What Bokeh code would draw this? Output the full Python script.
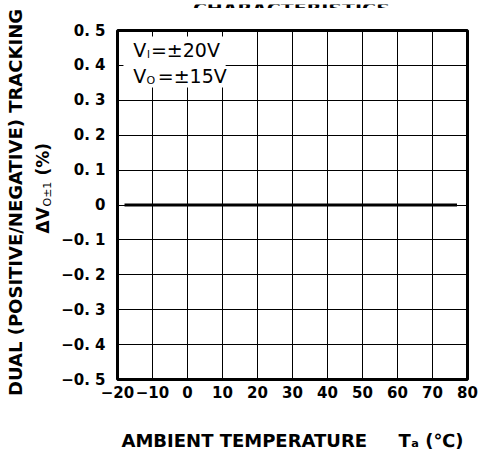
import math
from bokeh.plotting import figure
from bokeh.layouts import column, row
from bokeh.models import Label, FixedTicker
from bokeh.embed import file_html
from bokeh.resources import INLINE

# ---- data ----
temperature = [-18, -10, 0, 10, 20, 30, 40, 50, 60, 70, 77]
tracking = [0.0, 0.0, 0.0, 0.0, 0.0, 0.0, 0.0, 0.0, 0.0, 0.0, 0.0]

x_ticks = [-20, -10, 0, 10, 20, 30, 40, 50, 60, 70, 80]
x_tick_labels = ["−20", "−10", "0", "10", "20", "30", "40", "50", "60", "70", "80"]
y_ticks = [-0.5, -0.4, -0.3, -0.2, -0.1, 0.0, 0.1, 0.2, 0.3, 0.4, 0.5]
y_tick_labels = ["−0. 5", "−0. 4", "−0. 3", "−0. 2", "−0. 1", "0",
                 "0. 1", "0. 2", "0. 3", "0. 4", "0. 5"]

FONT = "DejaVu Sans"


def bare_figure(w, h):
    f = figure(width=w, height=h, x_range=(0, 1), y_range=(0, 1),
               output_backend="svg", toolbar_location=None,
               min_border_left=0, min_border_right=0, min_border_top=0, min_border_bottom=0)
    f.axis.visible = False
    f.grid.visible = False
    f.outline_line_color = None
    f.background_fill_color = "white"
    f.border_fill_color = "white"
    f.frame_align = False
    return f


def add_label(f, x, y, text, size, align="left", baseline="middle", angle=0.0,
              style="bold", units="data"):
    f.add_layout(Label(x=x, y=y, text=text, text_font=FONT, text_font_style=style,
                       text_font_size=size, text_align=align, text_baseline=baseline,
                       angle=angle, text_color="black", x_units=units, y_units=units))


# ---- title strip (cut off at the top as in the original) ----
tfig = bare_figure(479, 8)
add_label(tfig, 291, 4, "CHARACTERISTICS", "19px", align="center", baseline="alphabetic",
          units="screen")

# ---- left strip with the vertical axis titles ----
LW, H = 58, 453
lfig = bare_figure(LW, H)
add_label(lfig, 15, 259, "DUAL (POSITIVE/NEGATIVE) TRACKING", "18px", align="center",
          angle=math.pi / 2, units="screen")
add_label(lfig, 42, 228, "ΔV", "17px", angle=math.pi / 2, units="screen")
add_label(lfig, 47, 255, "O±1", "11px", angle=math.pi / 2, units="screen", style="normal")
add_label(lfig, 42, 286, "(%)", "17px", angle=math.pi / 2, units="screen")

# ---- main chart ----
p = figure(width=479 - LW, height=H, x_range=(-20, 80), y_range=(-0.5, 0.5),
           output_backend="svg", toolbar_location=None,
           min_border_left=53, min_border_right=12, min_border_top=22, min_border_bottom=82)
p.frame_align = False

p.outline_line_color = "black"
p.outline_line_width = 3
p.background_fill_color = "white"
p.border_fill_color = "white"

for ax in (p.xaxis, p.yaxis):
    ax.axis_line_color = None
    ax.major_tick_line_color = None
    ax.minor_tick_line_color = None
    ax.major_label_text_font = FONT
    ax.major_label_text_font_style = "bold"
    ax.major_label_text_font_size = "15px"
    ax.major_label_text_color = "black"

p.xaxis.ticker = FixedTicker(ticks=x_ticks)
p.yaxis.ticker = FixedTicker(ticks=y_ticks)
p.xaxis.major_label_overrides = {t: l for t, l in zip(x_ticks, x_tick_labels)}
p.yaxis.major_label_overrides = {t: l for t, l in zip(y_ticks, y_tick_labels)}
p.xaxis.major_label_standoff = 0
p.yaxis.major_label_standoff = 6

p.xaxis.axis_label = "AMBIENT TEMPERATURE\u00a0\u00a0\u00a0\u00a0 Tₐ (℃)"
p.xaxis.axis_label_text_font = FONT
p.xaxis.axis_label_text_font_style = "bold"
p.xaxis.axis_label_text_font_size = "18px"
p.xaxis.axis_label_standoff = 29
p.xaxis.axis_label_text_color = "black"

p.xgrid.grid_line_color = "black"
p.ygrid.grid_line_color = "black"
p.xgrid.grid_line_width = 1
p.ygrid.grid_line_width = 1
p.xgrid.ticker = FixedTicker(ticks=x_ticks)
p.ygrid.ticker = FixedTicker(ticks=y_ticks)

# white patch behind the condition text
p.quad(left=[-18.3], right=[10.9], bottom=[0.337], top=[0.483],
       fill_color="white", line_color=None)

# the tracking curve
p.line(temperature, tracking, line_color="black", line_width=3)

# condition text
add_label(p, -15.5, 0.443, "V", "19px", style="normal")
add_label(p, -11.6, 0.431, "I", "10px", style="normal")
add_label(p, -10.45, 0.443, "=±20V", "19px", style="normal")
add_label(p, -15.5, 0.371, "V", "19px", style="normal")
add_label(p, -11.7, 0.357, "O", "11px", style="normal")
add_label(p, -8.5, 0.371, "=±15V", "19px", style="normal")

layout = column(tfig, row(lfig, p, spacing=0), spacing=0)

open("out.html", "w").write(file_html(layout, INLINE))
